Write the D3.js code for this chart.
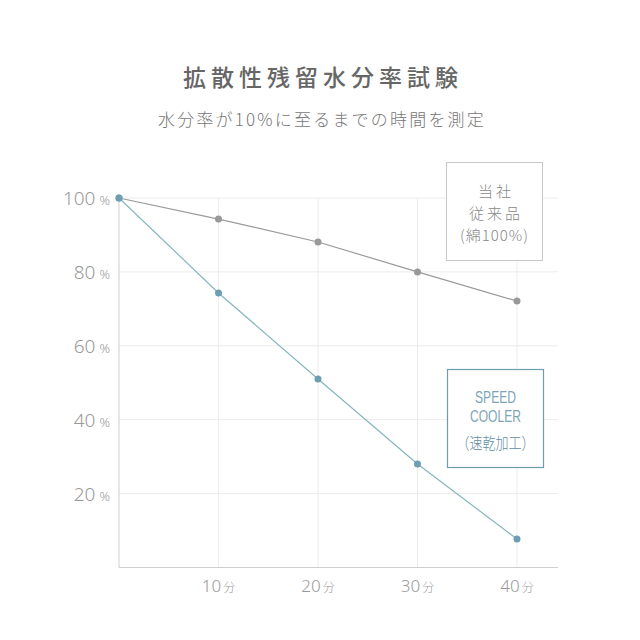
<!DOCTYPE html>
<html>
<head>
<meta charset="utf-8">
<script src="https://cdn.jsdelivr.net/npm/d3@7"></script>
<style>
  body { margin: 0; background: #fff; }
  svg text { font-family: "Noto Sans", "Noto Sans CJK JP", sans-serif; }
</style>
</head>
<body>
<div id="chart"></div>
<script>
// data
const minutes = [0, 10, 20, 30, 40];
const conventional = [100, 94.3, 88.1, 80.0, 72.1];
const speedCooler = [100, 74.3, 51.0, 28.0, 7.7];
const yTicks = [20, 40, 60, 80, 100];
const xTicks = [10, 20, 30, 40];
const title = "拡散性残留水分率試験";
const subtitle = "水分率が10%に至るまでの時間を測定";
const legendConv = ["当社", "従来品", "(綿100%)"];
const legendSpeed = ["SPEED", "COOLER", "（速乾加工）"];

// scales
const x = d3.scaleLinear([0, 40], [119, 517]);
const y = d3.scaleLinear([0, 100], [567.5, 198]);

const svg = d3.select("#chart")
    .append("svg")
    .attr("width", 640)
    .attr("height", 640);

// titles
svg.append("text")
    .attr("x", 323).attr("y", 86)
    .attr("text-anchor", "middle")
    .style("font-family", "'Noto Sans CJK JP'")
    .style("font-weight", 500)
    .style("font-size", "23px")
    .style("letter-spacing", "5px")
    .style("fill", "#666")
    .text(title);

svg.append("text")
    .attr("x", 322).attr("y", 126)
    .attr("text-anchor", "middle")
    .style("font-family", "'Noto Sans CJK JP'")
    .style("font-weight", 300)
    .style("font-size", "17px")
    .style("letter-spacing", "2.2px")
    .style("fill", "#777")
    .text(subtitle);

// grid lines
svg.selectAll("line.hgrid")
    .data(yTicks)
    .enter()
    .append("line")
    .attr("class", "hgrid")
    .attr("x1", x(0)).attr("x2", 558)
    .attr("y1", d => y(d)).attr("y2", d => y(d))
    .style("stroke", "#ececec")
    .style("stroke-width", 1);

svg.selectAll("line.vgrid")
    .data(xTicks)
    .enter()
    .append("line")
    .attr("class", "vgrid")
    .attr("x1", d => x(d)).attr("x2", d => x(d))
    .attr("y1", y(100)).attr("y2", y(0))
    .style("stroke", "#ececec")
    .style("stroke-width", 1);

// axes lines
svg.append("line")
    .attr("x1", x(0)).attr("x2", x(0))
    .attr("y1", y(100)).attr("y2", y(0))
    .style("stroke", "#cfcfcf");
svg.append("line")
    .attr("x1", x(0)).attr("x2", 558)
    .attr("y1", y(0)).attr("y2", y(0))
    .style("stroke", "#cfcfcf");

// y tick labels
let yLab = svg.selectAll("text.ylab")
    .data(yTicks)
    .enter()
    .append("text")
    .attr("class", "ylab")
    .attr("x", 110)
    .attr("y", d => y(d) + 7)
    .attr("text-anchor", "end")
    .style("fill", "#999");
yLab.append("tspan").style("font-size", "19px").style("font-weight", 300).text(d => d);
yLab.append("tspan").attr("dx", 4).style("font-size", "13px").style("font-weight", 300).text("%");

// x tick labels
let xLab = svg.selectAll("text.xlab")
    .data(xTicks)
    .enter()
    .append("text")
    .attr("class", "xlab")
    .attr("x", d => x(d))
    .attr("y", 592)
    .attr("text-anchor", "middle")
    .style("fill", "#999");
xLab.append("tspan").style("font-size", "17px").style("font-weight", 300).text(d => d);
xLab.append("tspan").attr("dx", 2).style("font-size", "12px")
    .style("font-family", "'Noto Sans CJK JP'").style("font-weight", 300).text("分");

// series
const line = d3.line()
    .x((d, i) => x(minutes[i]))
    .y(d => y(d));

function drawSeries(values, lineColor, dotColor) {
    svg.append("path")
        .datum(values)
        .attr("d", line)
        .style("fill", "none")
        .style("stroke", lineColor)
        .style("stroke-width", 1.2);
    svg.append("g").selectAll("circle")
        .data(values)
        .enter()
        .append("circle")
        .attr("cx", (d, i) => x(minutes[i]))
        .attr("cy", d => y(d))
        .attr("r", 3.5)
        .style("fill", dotColor);
}
drawSeries(conventional, "#9a9a9a", "#999");
drawSeries(speedCooler, "#86b6bf", "#6e9eb2");

// legend boxes
svg.append("rect")
    .attr("x", 446.5).attr("y", 162.5)
    .attr("width", 96).attr("height", 98)
    .style("fill", "#fff")
    .style("stroke", "#c8c8c8");
svg.selectAll("text.lconv")
    .data(legendConv)
    .enter()
    .append("text")
    .attr("class", "lconv")
    .attr("x", (d, i) => i < 2 ? 496 : 494.5)
    .attr("y", (d, i) => 197 + i * 22)
    .attr("text-anchor", "middle")
    .style("font-family", "'Noto Sans CJK JP'")
    .style("font-weight", 300)
    .style("font-size", "15px")
    .style("letter-spacing", (d, i) => i < 2 ? "3px" : "1px")
    .style("fill", "#888")
    .text(d => d);

svg.append("rect")
    .attr("x", 447.5).attr("y", 369.5)
    .attr("width", 96).attr("height", 98)
    .style("fill", "#fff")
    .style("stroke", "#6e9db0")
    .style("stroke-width", 1.2);
svg.selectAll("text.lspeed")
    .data(legendSpeed)
    .enter()
    .append("text")
    .attr("class", "lspeed")
    .attr("x", 495.5)
    .attr("y", (d, i) => [403, 422, 449][i])
    .attr("text-anchor", "middle")
    .attr("textLength", (d, i) => [41, 51, 78][i])
    .attr("lengthAdjust", "spacingAndGlyphs")
    .style("font-family", (d, i) => i < 2 ? "'Liberation Sans'" : "'Noto Sans CJK JP'")
    .style("font-weight", (d, i) => i < 2 ? 400 : 300)
    .style("font-size", (d, i) => i < 2 ? "17px" : "16px")
    .style("fill", (d, i) => i < 2 ? "#7ea5b4" : "#5f8fa2")
    .text(d => d);
</script>
</body>
</html>
